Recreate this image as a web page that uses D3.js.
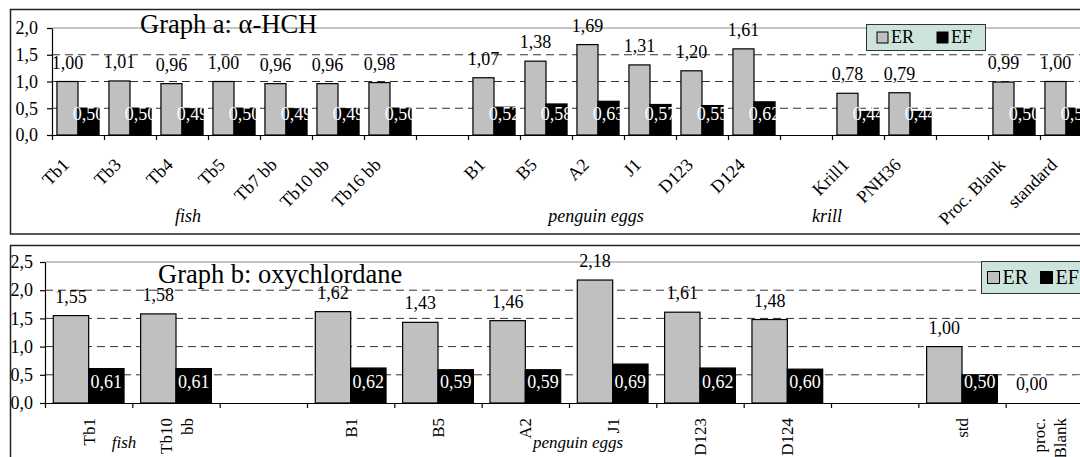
<!DOCTYPE html>
<html>
<head>
<meta charset="utf-8">
<script src="https://cdn.jsdelivr.net/npm/d3@7"></script>
<style>
  body { margin: 0; background: #fff; }
  svg { display: block; }
  text { font-family: "Liberation Serif", "Times New Roman", serif; }
</style>
</head>
<body>
<div class="graphics"></div>
<script>
// Graph a: alpha-HCH  (empty names = gaps between sample groups)
var catsA = ["Tb1", "Tb3", "Tb4", "Tb5", "Tb7 bb", "Tb10 bb", "Tb16 bb", "", "B1", "B5", "A2", "J1", "D123", "D124", "", "Krill1", "PNH36", "", "Proc. Blank", "standard"];
var erA = [1.00, 1.01, 0.96, 1.00, 0.96, 0.96, 0.98, null, 1.07, 1.38, 1.69, 1.31, 1.20, 1.61, null, 0.78, 0.79, null, 0.99, 1.00];
var efA = [0.50, 0.50, 0.49, 0.50, 0.49, 0.49, 0.50, null, 0.52, 0.58, 0.63, 0.57, 0.55, 0.62, null, 0.44, 0.44, null, 0.50, 0.50];
var groupsA = ["fish", "penguin eggs", "krill"];
var ticksA = [0, 0.5, 1, 1.5, 2];

// Graph b: oxychlordane
var catsB = ["Tb1", "Tb10\nbb", "", "B1", "B5", "A2", "J1", "D123", "D124", "", "std", "proc.\nBlank"];
var erB = [1.55, 1.58, null, 1.62, 1.43, 1.46, 2.18, 1.61, 1.48, null, 1.00, 0.00];
var efB = [0.61, 0.61, null, 0.62, 0.59, 0.59, 0.69, 0.62, 0.60, null, 0.50, 0.00];
var groupsB = ["fish", "penguin eggs"];
var ticksB = [0, 0.5, 1, 1.5, 2, 2.5];

var series = ["ER", "EF"];
var colors = {ER: "#c0c0c0", EF: "#000000"};

function comma(f) {
    var fmt = d3.format(f);
    return function(v) { return fmt(v).replace(".", ","); };
}

var svg = d3.select(".graphics")
    .append("svg")
    .attr("width", 1080)
    .attr("height", 457)
    .style("overflow", "hidden");

function drawGraph(p) {
    var g = svg.append("g");
    var n = p.cats.length;
    var top = d3.max(p.ticks);

    // chart frame
    g.append("rect")
        .attr("x", p.frame[0]).attr("y", p.frame[1])
        .attr("width", p.frame[2]).attr("height", p.frame[3])
        .attr("fill", "#fff")
        .attr("stroke", "#222")
        .attr("stroke-width", 1.5);

    var y = d3.scaleLinear().domain([0, top]).range([p.y0, p.y1]);
    var x = d3.scaleBand().domain(d3.range(n)).range([p.x0, p.x1]);
    var xb = d3.scaleLinear().domain([0, n]).range([p.x0, p.x1]);
    var gap = x.bandwidth() * 0.095;
    var xs = d3.scaleBand().domain(series).range([gap, x.bandwidth() - gap]);
    var bw = xs.bandwidth();

    // plot area top border
    g.append("line")
        .attr("x1", p.x0).attr("x2", p.x1 + 20)
        .attr("y1", y(top)).attr("y2", y(top))
        .attr("stroke", "#8a8a8a");

    // dashed gridlines
    g.selectAll(".grid")
        .data(p.ticks.filter(function(t) { return t > 0 && t < top; }))
        .enter()
        .append("line")
            .attr("x1", p.x0).attr("x2", p.x1 + 20)
            .attr("y1", function(d) { return y(d); })
            .attr("y2", function(d) { return y(d); })
            .attr("stroke", "#333")
            .attr("stroke-dasharray", "8,5");

    var rows = [];
    p.cats.forEach(function(c, i) {
        if (p.er[i] === null) return;
        rows.push({i: i, ER: p.er[i], EF: p.ef[i]});
    });
    var bars = [];
    rows.forEach(function(d) {
        series.forEach(function(s) { bars.push({i: d.i, s: s, v: d[s]}); });
    });

    // bars
    g.selectAll(".bar")
        .data(bars)
        .enter()
        .append("rect")
            .attr("x", function(d) { return x(d.i) + xs(d.s); })
            .attr("y", function(d) { return y(d.v); })
            .attr("width", bw)
            .attr("height", function(d) { return y(0) - y(d.v); })
            .attr("fill", function(d) { return colors[d.s]; })
            .attr("stroke", "#000")
            .attr("stroke-width", 1.2);

    // Y axis
    var ay = g.append("g")
        .attr("transform", "translate(" + p.x0 + ",0)")
        .call(d3.axisLeft(y).tickValues(p.ticks).tickFormat(comma(".1f"))
            .tickSize(5).tickSizeOuter(0).tickPadding(p.yPad));
    ay.attr("font-size", p.font).attr("font-family", null);
    ay.selectAll("text").attr("fill", "#000");
    ay.selectAll("path,line").attr("stroke", "#000").attr("stroke-width", 1.2);

    // X axis, ticks between categories
    var ax = g.append("g")
        .attr("transform", "translate(0," + p.y0 + ")")
        .call(d3.axisBottom(xb).tickValues(d3.range(n + 1)).tickFormat("")
            .tickSize(5).tickSizeOuter(0));
    ax.selectAll("path,line").attr("stroke", "#000").attr("stroke-width", 1.2);

    // value labels
    g.selectAll(".erlab")
        .data(rows)
        .enter()
        .append("text")
            .attr("x", function(d) { return x(d.i) + xs("ER") + bw / 2; })
            .attr("y", function(d) { return y(d.ER) - 13; })
            .attr("text-anchor", "middle")
            .style("font-size", p.font + "px")
            .attr("fill", "#000")
            .text(function(d) { return comma(".2f")(d.ER); });

    g.selectAll(".eflab")
        .data(rows)
        .enter()
        .append("text")
            .attr("x", function(d) { return x(d.i) + xs("EF") + bw / 2; })
            .attr("y", y(0) - 15)
            .attr("text-anchor", "middle")
            .style("font-size", p.font + "px")
            .attr("fill", "#fff")
            .text(function(d) { return comma(".2f")(d.EF); });

    // category labels
    var cl = g.selectAll(".cat")
        .data(p.cats.map(function(c, i) { return {i: i, c: c}; }).filter(function(d) { return d.c; }))
        .enter()
        .append("g");
    if (p.rotate === -45) {
        cl.append("text")
            .attr("transform", function(d) {
                return "translate(" + (x(d.i) + x.bandwidth() / 2 - 8) + "," + (p.y0 + 31) + ")rotate(-45)";
            })
            .attr("text-anchor", "end")
            .style("font-size", p.catFont + "px")
            .text(function(d) { return d.c; });
    } else {
        cl.each(function(d) {
            var lines = d.c.split("\n");
            var sel = d3.select(this);
            lines.forEach(function(t, k) {
                var off = (k - (lines.length - 1) / 2) * 21;
                sel.append("text")
                    .attr("transform", "translate(" + (x(d.i) + x.bandwidth() / 2 + 6 + off) + "," + (p.y0 + 15) + ")rotate(-90)")
                    .attr("text-anchor", "end")
                    .style("font-size", p.catFont + "px")
                    .text(t);
            });
        });
    }

    // group labels
    g.selectAll(".grp")
        .data(p.groups)
        .enter()
        .append("text")
            .attr("x", function(d, i) { return p.groupX[i]; })
            .attr("y", p.groupY)
            .attr("text-anchor", "middle")
            .style("font-size", p.groupFont + "px")
            .style("font-style", "italic")
            .text(function(d) { return d; });

    // legend
    var L = p.legend;
    var lg = g.append("g").attr("transform", "translate(" + L.x + "," + L.y + ")");
    lg.append("rect")
        .attr("width", L.w).attr("height", L.h)
        .attr("fill", "#cde4dc")
        .attr("stroke", "#333");
    series.forEach(function(s, k) {
        lg.append("rect")
            .attr("x", L.dx[k]).attr("y", (L.h - L.sq) / 2)
            .attr("width", L.sq).attr("height", L.sq)
            .attr("fill", colors[s])
            .attr("stroke", "#000");
        lg.append("text")
            .attr("x", L.dx[k] + L.sq + 3)
            .attr("y", L.h / 2 + L.font * 0.33)
            .style("font-size", L.font + "px")
            .text(s);
    });

    // title
    g.append("text")
        .attr("x", p.titleX)
        .attr("y", p.titleY)
        .style("font-size", "26.5px")
        .text(p.title);
}

drawGraph({
    title: "Graph a: α-HCH", cats: catsA, er: erA, ef: efA, groups: groupsA, ticks: ticksA,
    frame: [10.5, 9.5, 1100, 224.5], x0: 52, x1: 1092, y0: 135, y1: 28,
    font: 18, catFont: 18, groupFont: 18, yPad: 9, rotate: -45, titleX: 140, titleY: 33,
    groupX: [188, 596, 827], groupY: 222,
    legend: {x: 866.5, y: 24.5, w: 119, h: 26, sq: 11, dx: [10.5, 70.5], font: 18}
});

drawGraph({
    title: "Graph b: oxychlordane", cats: catsB, er: erB, ef: efB, groups: groupsB, ticks: ticksB,
    frame: [10.5, 245.5, 1100, 300], x0: 45, x1: 1093, y0: 403, y1: 262,
    font: 18, catFont: 17, groupFont: 17, yPad: 7, rotate: -90, titleX: 158, titleY: 283,
    groupX: [124, 578], groupY: 448,
    legend: {x: 981.5, y: 261.5, w: 110, h: 32, sq: 12, dx: [6, 59], font: 20}
});
</script>
</body>
</html>
